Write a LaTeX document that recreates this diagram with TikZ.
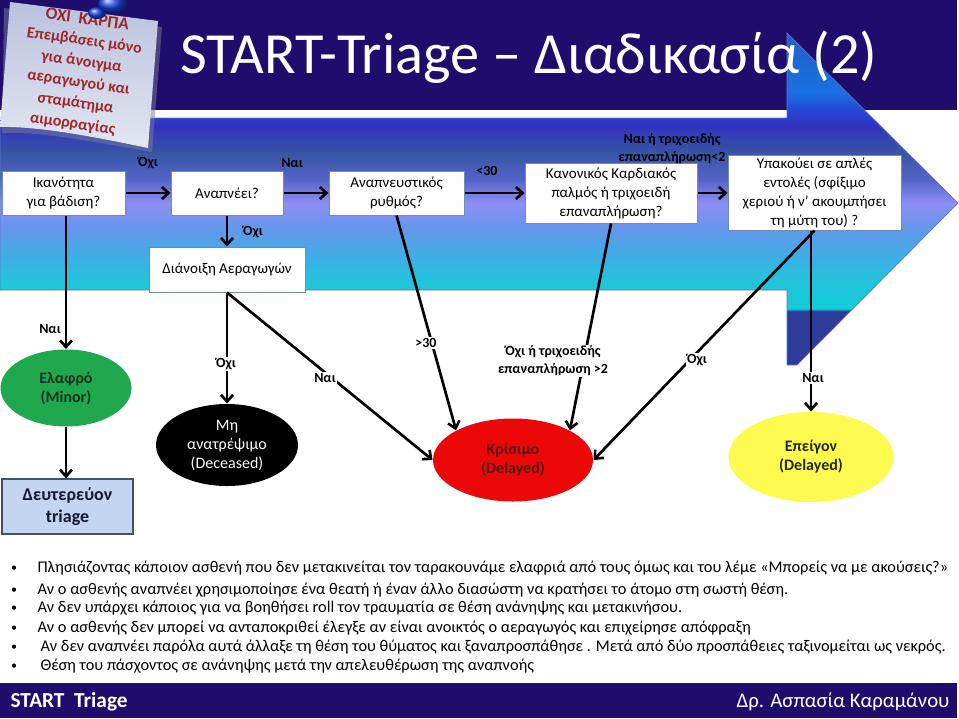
\documentclass[tikz,border=0pt]{standalone}
\usepackage{fontspec}
\setmainfont{Carlito}
\usetikzlibrary{arrows.meta,shapes.geometric}

\definecolor{arrA}{RGB}{35,95,200}
\definecolor{arrB}{RGB}{25,112,228}
\definecolor{arrC}{RGB}{35,75,215}
\definecolor{arrD}{RGB}{50,50,190}
\definecolor{arrE}{RGB}{55,85,165}
\definecolor{arrF}{RGB}{85,100,200}
\definecolor{arrG}{RGB}{142,142,245}
\definecolor{arrH}{RGB}{100,150,235}
\definecolor{arrI}{RGB}{60,175,228}
\definecolor{arrJ}{RGB}{35,195,220}
\definecolor{arrK}{RGB}{18,205,214}
\definecolor{arrL}{RGB}{45,60,155}
\definecolor{noteTop}{RGB}{226,230,242}
\definecolor{noteBot}{RGB}{186,194,222}
\definecolor{pinBlue}{RGB}{30,70,235}
% stops run bottom to top of the page after the y flip
\pgfdeclareverticalshading{arrowshade}{100bp}{color(0bp)=(arrL); color(33.1bp)=(arrL);
  color(33.5bp)=(arrK); color(37.8bp)=(arrJ); color(41.1bp)=(arrI); color(45.6bp)=(arrH);
  color(49.4bp)=(arrG); color(52.9bp)=(arrF); color(57bp)=(arrE); color(61bp)=(arrD);
  color(63.7bp)=(arrC); color(66bp)=(arrB); color(75bp)=(arrA); color(100bp)=(arrA)}

\tikzset{every picture/.style={line width=0.75pt}}
\tikzset{
  box/.style={draw={rgb, 255:red, 110; green, 140; blue, 180}, fill=white, inner sep=0pt, align=center, font=\fontsize{11.25}{14.25}\selectfont},
  lbl/.style={inner sep=1pt, align=center, font=\bfseries\fontsize{10.5}{13.5}\selectfont},
  cut/.style={lbl, fill=white},
  oval/.style={ellipse, inner sep=0pt, align=center, font=\bfseries\fontsize{12}{14.25}\selectfont},
  flow/.style={line width=2pt, -{Straight Barb[length=5pt,width=9pt]}},
  bul/.style={anchor=base west, inner sep=0pt, font=\fontsize{12.25}{13}\selectfont},
  dot/.style={anchor=base, inner sep=0pt, font=\fontsize{9}{10}\selectfont}
}

\begin{document}
\begin{tikzpicture}[x=0.75pt,y=0.75pt,yscale=-1,xscale=1]
	\useasboundingbox (0,0) rectangle (959,718);
	\fill[white] (0,0) rectangle (959,718);

	%Shape: Title bar
	\fill[fill={rgb, 255:red, 31; green, 13; blue, 110}] (0,0) rectangle (957,110);
	%Shape: Right Arrow
	\draw[draw={rgb, 255:red, 90; green, 120; blue, 200}, line width=0.5pt, shading=arrowshade] (0,118) -- (787,118) -- (787,33) -- (958,203) -- (797,365) -- (787,365) -- (787,290) -- (0,290) -- cycle;
	% Text Node
	\node[anchor=base west, inner sep=0pt, text=white, font=\fontsize{43.7}{48}\selectfont] (title) at (180,73) {START-Triage – Διαδικασία (2)};

	%Shape: Note
	\fill[fill={rgb, 255:red, 120; green, 125; blue, 150}, opacity=0.5] (4,8) -- (162,27) -- (152,152) .. controls (100,143) and (40,131) .. (2,133) -- cycle;
	\shade[top color=noteBot, bottom color=noteTop] (10,2) -- (158,21) -- (148,148) .. controls (100,138) and (40,126) .. (0,127) -- cycle;
	% Text Node
	\node[rotate=-8, align=center, text={rgb, 255:red, 160; green, 40; blue, 40}, font=\bfseries\fontsize{12}{15.75}\selectfont] (note) at (80,72) {{\fontsize{13}{15.75}\selectfont ΌΧΙ\ \ ΚΑΡΠΑ}\\Επεμβάσεις μόνο\\για άνοιγμα\\αεραγωγού και\\σταμάτημα\\αιμορραγίας};
	%Shape: Pin
	\shade[ball color=pinBlue] (97,13) ellipse (9 and 6);
	\shade[ball color=pinBlue] (113,4) ellipse (15 and 9);

	% Boxes
	\node[box, minimum width=92.25pt, minimum height=33pt] (walk) at (63.5,193) {Ικανότητα\\για βάδιση?};
	\node[box, minimum width=84pt, minimum height=33pt] (breath) at (227,193) {Αναπνέει?};
	\node[box, minimum width=101.25pt, minimum height=33pt] (rate) at (396.5,193) {Αναπνευστικός\\ρυθμός?};
	\node[box, minimum width=129pt, minimum height=45pt] (pulse) at (611,193) {Κανονικός Καρδιακός\\παλμός ή τριχοειδή\\επαναπλήρωση?};
	\node[box, minimum width=129.75pt, minimum height=56.25pt] (obey) at (814.5,192.5) {Υπακούει σε απλές\\εντολές (σφίξιμο\\χεριού ή ν’ ακουμπήσει\\τη μύτη του) ?};
	\node[box, minimum width=117pt, minimum height=33.75pt] (airway) at (227,269.5) {Διάνοιξη Αεραγωγών};

	% Outcomes
	\node[oval, fill={rgb, 255:red, 32; green, 168; blue, 78}, text={rgb, 255:red, 18; green, 50; blue, 30}, minimum width=98.25pt, minimum height=57.75pt] (minor) at (66,388) {Ελαφρό\\(Minor)};
	\node[oval, fill=black, text=white, font=\fontsize{12}{14.25}\selectfont, minimum width=106.5pt, minimum height=61.5pt] (dead) at (227,445) {Μη\\ανατρέψιμο\\(Deceased)};
	\node[oval, fill={rgb, 255:red, 236; green, 8; blue, 8}, text={rgb, 255:red, 90; green, 20; blue, 20}, minimum width=120pt, minimum height=62.25pt] (critical) at (513,460) {Κρίσιμο\\(Delayed)};
	\node[oval, fill={rgb, 255:red, 253; green, 251; blue, 80}, text={rgb, 255:red, 40; green, 40; blue, 20}, minimum width=123.75pt, minimum height=67.5pt] (urgent) at (811,457) {Επείγον\\(Delayed)};
	\node[draw={rgb, 255:red, 70; green, 80; blue, 95}, line width=1pt, fill={rgb, 255:red, 195; green, 213; blue, 240}, text={rgb, 255:red, 20; green, 25; blue, 50}, inner sep=0pt, align=center, font=\bfseries\fontsize{13.5}{16.5}\selectfont, minimum width=98.25pt, minimum height=41.25pt] (second) at (67.5,506.5) {Δευτερεύον\\triage};

	% Connectors
	\draw[flow] (walk) -- (breath);
	\draw[flow] (breath) -- (rate);
	\draw[flow] (rate) -- (pulse);
	\draw[flow] (pulse.east) -- (pulse.east -| obey.west);
	\draw[flow] (breath) -- (airway);
	\draw[flow] (walk.south -| minor.north) -- (minor.north);
	\draw[flow] (minor.south) -- (minor.south |- second.north);
	\draw[flow] (airway) -- (dead);
	\draw[flow] (airway.south) -- (critical.west);
	\draw[flow] (rate.south) -- (critical.north west);
	\draw[flow] (pulse.south) -- (critical.north east);
	\draw[flow] (obey.south) -- (critical.east);
	\draw[flow] (obey.south -| urgent.north) -- (urgent.north);

	% Text Node
	\node[lbl] (walkNo) at (148,163) {Όχι};
	\node[lbl] (breathYes) at (292,163) {Ναι};
	\node[lbl] (rateLow) at (487,171) {<30};
	\node[lbl] (pulseYes) at (672,149) {Ναι ή τριχοειδής\\επαναπλήρωση<2};
	\node[lbl] (breathNo) at (253,232) {Όχι};
	\node[lbl] (walkYes) at (50,329) {Ναι};
	\node[cut] (airNo) at (226,364) {Όχι};
	\node[cut] (airYes) at (325,378) {Ναι};
	\node[cut] (rateHigh) at (426,343) {>30};
	\node[cut] (pulseNo) at (553,361) {Όχι ή τριχοειδής\\επαναπλήρωση >2};
	\node[cut] (obeyNo) at (697,360) {Όχι};
	\node[cut] (obeyYes) at (813,378) {Ναι};

	% Text Node
	\node[dot] (d1) at (14,571) {•};
	\node[bul] (t1) at (37,572) {Πλησιάζοντας κάποιον ασθενή που δεν μετακινείται τον ταρακουνάμε ελαφριά από τους όμως και του λέμε «Μπορείς να με ακούσεις?»};
	\node[dot] (d2) at (14,593) {•};
	\node[bul] (t2) at (37,594) {Αν ο ασθενής αναπνέει χρησιμοποίησε ένα θεατή ή έναν άλλο διασώστη να κρατήσει το άτομο στη σωστή θέση.};
	\node[dot] (d3) at (14,611) {•};
	\node[bul] (t3) at (37,612) {Αν δεν υπάρχει κάποιος για να βοηθήσει roll τον τραυματία σε θέση ανάνηψης και μετακινήσου.};
	\node[dot] (d4) at (14,631) {•};
	\node[bul] (t4) at (37,632) {Αν ο ασθενής δεν μπορεί να ανταποκριθεί έλεγξε αν είναι ανοικτός ο αεραγωγός και επιχείρησε απόφραξη};
	\node[dot] (d5) at (14,650) {•};
	\node[bul] (t5) at (40,651) {Αν δεν αναπνέει παρόλα αυτά άλλαξε τη θέση του θύματος και ξαναπροσπάθησε . Μετά από δύο προσπάθειες ταξινομείται ως νεκρός.};
	\node[dot] (d6) at (14,669) {•};
	\node[bul] (t6) at (40,670) {Θέση του πάσχοντος σε ανάνηψης μετά την απελευθέρωση της αναπνοής};

	%Shape: Footer bar
	\fill[fill={rgb, 255:red, 31; green, 13; blue, 110}] (0,683) rectangle (957,718);
	\node[anchor=base west, inner sep=0pt, text=white, font=\bfseries\fontsize{16}{18}\selectfont] (footL) at (10,707) {START\ \ Triage};
	\node[anchor=base east, inner sep=0pt, text=white, font=\fontsize{15.6}{18}\selectfont] (footR) at (950,707) {Δρ. Ασπασία Καραμάνου};
\end{tikzpicture}
\end{document}
